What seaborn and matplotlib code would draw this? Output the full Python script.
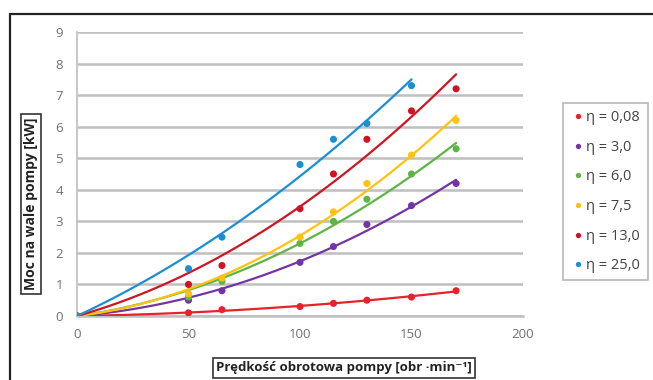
import numpy as np
import pandas as pd
import matplotlib.pyplot as plt
import seaborn as sns
from matplotlib.patches import Rectangle

sns.set_style('white')
plt.rcParams['font.family'] = ['Open Sans', 'DejaVu Sans']

# pump speed [obr/min]
speed = [0, 50, 65, 100, 115, 130, 150, 170]
speed_25 = [0, 50, 65, 100, 115, 130, 150]

# power on pump shaft [kW] for each viscosity
p_008 = [0, 0.1, 0.2, 0.3, 0.4, 0.5, 0.6, 0.8]
p_30 = [0, 0.5, 0.8, 1.7, 2.2, 2.9, 3.5, 4.2]
p_60 = [0, 0.6, 1.1, 2.3, 3.0, 3.7, 4.5, 5.3]
p_75 = [0, 0.7, 1.2, 2.5, 3.3, 4.2, 5.1, 6.2]
p_130 = [0, 1.0, 1.6, 3.4, 4.5, 5.6, 6.5, 7.2]
p_250 = [0, 1.5, 2.5, 4.8, 5.6, 6.1, 7.3]

labels = ['η = 0,08', 'η = 3,0', 'η = 6,0', 'η = 7,5', 'η = 13,0', 'η = 25,0']
colors = ['#e8212b', '#7335a3', '#5fb445', '#ffc20e', '#cf1422', '#1a8fd4']

series = [(speed, p_008), (speed, p_30), (speed, p_60), (speed, p_75),
          (speed, p_130), (speed_25, p_250)]

pts = []
fits = []
for lab, (xs, ys) in zip(labels, series):
    xs = np.array(xs, float)
    ys = np.array(ys, float)
    pts.append(pd.DataFrame({'x': xs, 'y': ys, 'eta': lab}))
    # 2nd order trend line through origin
    A = np.vstack([xs, xs ** 2]).T
    a, b = np.linalg.lstsq(A, ys, rcond=None)[0]
    xf = np.linspace(0, xs.max(), 60)
    fits.append(pd.DataFrame({'x': xf, 'y': a * xf + b * xf ** 2, 'eta': lab}))
pts = pd.concat(pts)
fits = pd.concat(fits)

pal = dict(zip(labels, colors))

fig = plt.figure(figsize=(6.53, 3.80), dpi=100)
ax = fig.add_axes([77 / 653, 1 - 316 / 380, 446 / 653, 284 / 380])

sns.lineplot(data=fits, x='x', y='y', hue='eta', palette=pal, lw=1.6,
             legend=False, ax=ax, zorder=3)
sns.scatterplot(data=pts, x='x', y='y', hue='eta', palette=pal, s=26,
                edgecolor='none', ax=ax, zorder=4)

ax.set_xlim(0, 200)
ax.set_ylim(0, 9)
ax.set_xticks([0, 50, 100, 150, 200])
ax.set_yticks(range(10))
ax.yaxis.grid(True, color='#bfbfbf', lw=1.8)
ax.xaxis.grid(False)
ax.set_axisbelow(True)
for s in ['top', 'right']:
    ax.spines[s].set_visible(False)
ax.spines['left'].set_color('#bfbfbf')
ax.spines['bottom'].set_color('#bfbfbf')
ax.spines['left'].set_linewidth(1.2)
ax.spines['bottom'].set_linewidth(1.8)
ax.tick_params(axis='both', colors='#707070', labelsize=9.5, length=0)
ax.tick_params(axis='y', pad=10)
ax.tick_params(axis='x', pad=9)
ax.set_xlabel('')
ax.set_ylabel('')

box = dict(boxstyle='square,pad=0.25', fc='white', ec='#333333', lw=1.2)
fig.text(31 / 653, 1 - 204 / 380, 'Moc na wale pompy [kW]', rotation=90,
         ha='center', va='center', fontsize=10, fontweight='bold',
         color='#222222', bbox=box)
fig.text(344 / 653, 1 - 368 / 380, 'Prędkość obrotowa pompy [obr ·min⁻¹]',
         ha='center', va='center', fontsize=9.5, fontweight='bold',
         color='#222222', bbox=box)

leg = ax.legend(loc='upper left', bbox_to_anchor=(563 / 653, 1 - 103 / 380),
                bbox_transform=fig.transFigure, frameon=True, fancybox=False,
                fontsize=10.5, labelspacing=1.0, handletextpad=0.0,
                borderpad=0.5, handlelength=1.1, borderaxespad=0,
                markerscale=0.75)
leg.get_frame().set_edgecolor('#a6a6a6')
leg.get_frame().set_linewidth(1.2)
for t in leg.get_texts():
    t.set_color('#444444')

fig.patches.append(Rectangle((10 / 653, -0.1), 1.0, 1 - 14 / 380 + 0.1,
                             transform=fig.transFigure, fill=False,
                             ec='#222222', lw=1.6))

fig.savefig('out.png', dpi=100)
